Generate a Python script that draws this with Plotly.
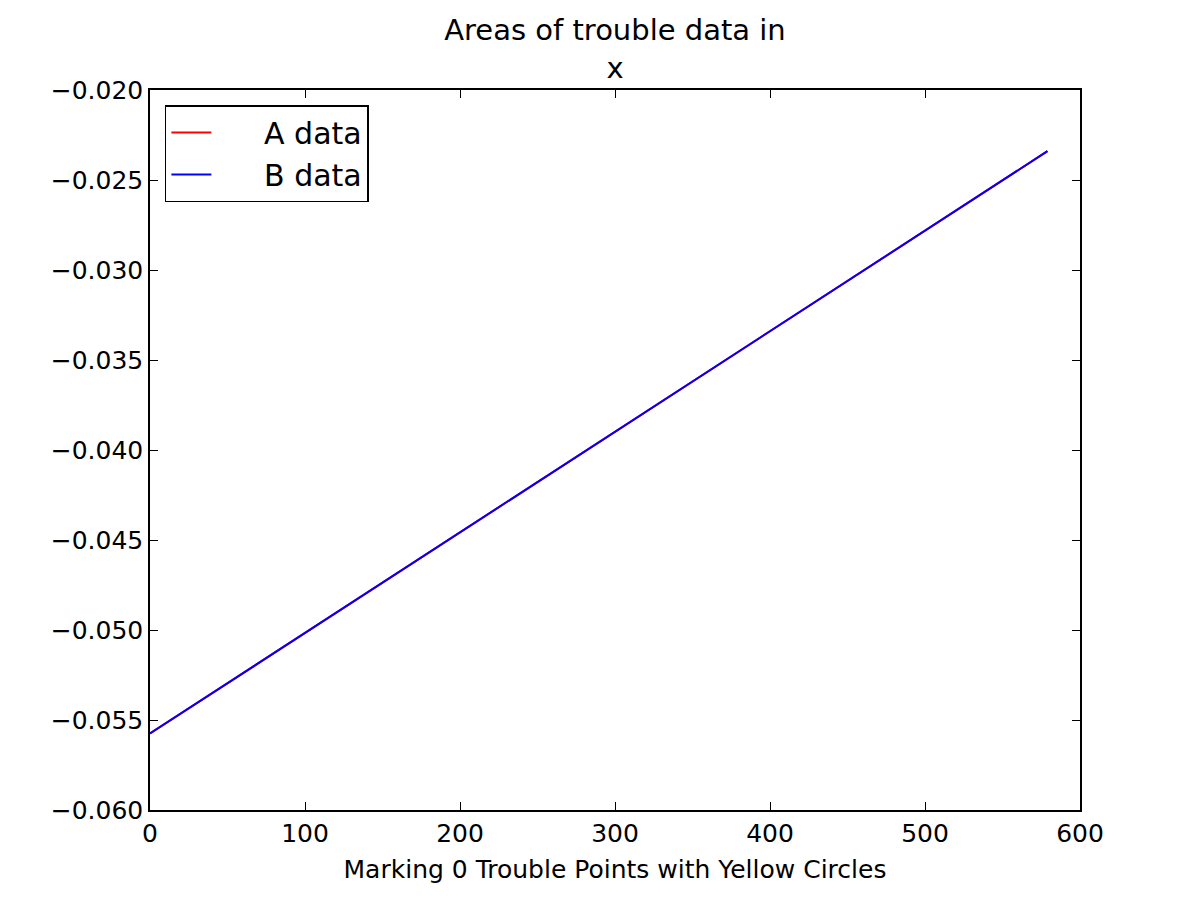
import plotly.graph_objects as go

# Data (straight lines, A is hidden under B)
a_x = [0, 150, 300, 450, 579]
a_y = [-0.05575, -0.04737, -0.03899, -0.03061, -0.02340]
b_x = [0, 150, 300, 450, 579]
b_y = [-0.05575, -0.04737, -0.03899, -0.03061, -0.02340]

x_ticks = [0, 100, 200, 300, 400, 500, 600]
y_ticks = [-0.060, -0.055, -0.050, -0.045, -0.040, -0.035, -0.030, -0.025, -0.020]
y_labels = ["\u2212%.3f" % abs(v) for v in y_ticks]

font = "DejaVu Sans"
pad = "\u00a0" * 5

fig = go.Figure()
fig.add_trace(go.Scatter(x=a_x, y=a_y, mode="lines", name=pad + "A data",
                         line=dict(color="red", width=2)))
fig.add_trace(go.Scatter(x=b_x, y=b_y, mode="lines", name=pad + "B data",
                         line=dict(color="blue", width=2)))

axis_common = dict(showgrid=False, zeroline=False, showline=True, linecolor="black",
                   linewidth=1.5, mirror="allticks", ticks="inside", ticklen=8,
                   tickwidth=1, tickcolor="black",
                   tickfont=dict(family=font, size=25, color="black"))

fig.update_layout(
    width=1200, height=900,
    paper_bgcolor="white", plot_bgcolor="white",
    margin=dict(l=142, r=128, t=82, b=98),
    font=dict(family=font, color="black"),
    title=dict(text="Areas of trouble data in<br>x", x=(615 - 8) / 1200, xanchor="center",
               y=0.964, yanchor="top",
               font=dict(family=font, size=29, color="black")),
    xaxis=dict(range=[0, 600], tickvals=x_ticks, ticktext=[str(v) for v in x_ticks],
               title=dict(text="Marking 0 Trouble Points with Yellow Circles",
                          font=dict(family=font, size=25, color="black"), standoff=14),
               **axis_common),
    yaxis=dict(range=[-0.060, -0.020], tickvals=y_ticks, ticktext=y_labels,
               **axis_common),
    legend=dict(x=0.016, y=0.979, xanchor="left", yanchor="top",
                bordercolor="black", borderwidth=1.5, bgcolor="white",
                font=dict(family=font, size=30, color="black"),
                tracegroupgap=0, itemwidth=40),
    showlegend=True,
)

fig.write_html("out.html")
